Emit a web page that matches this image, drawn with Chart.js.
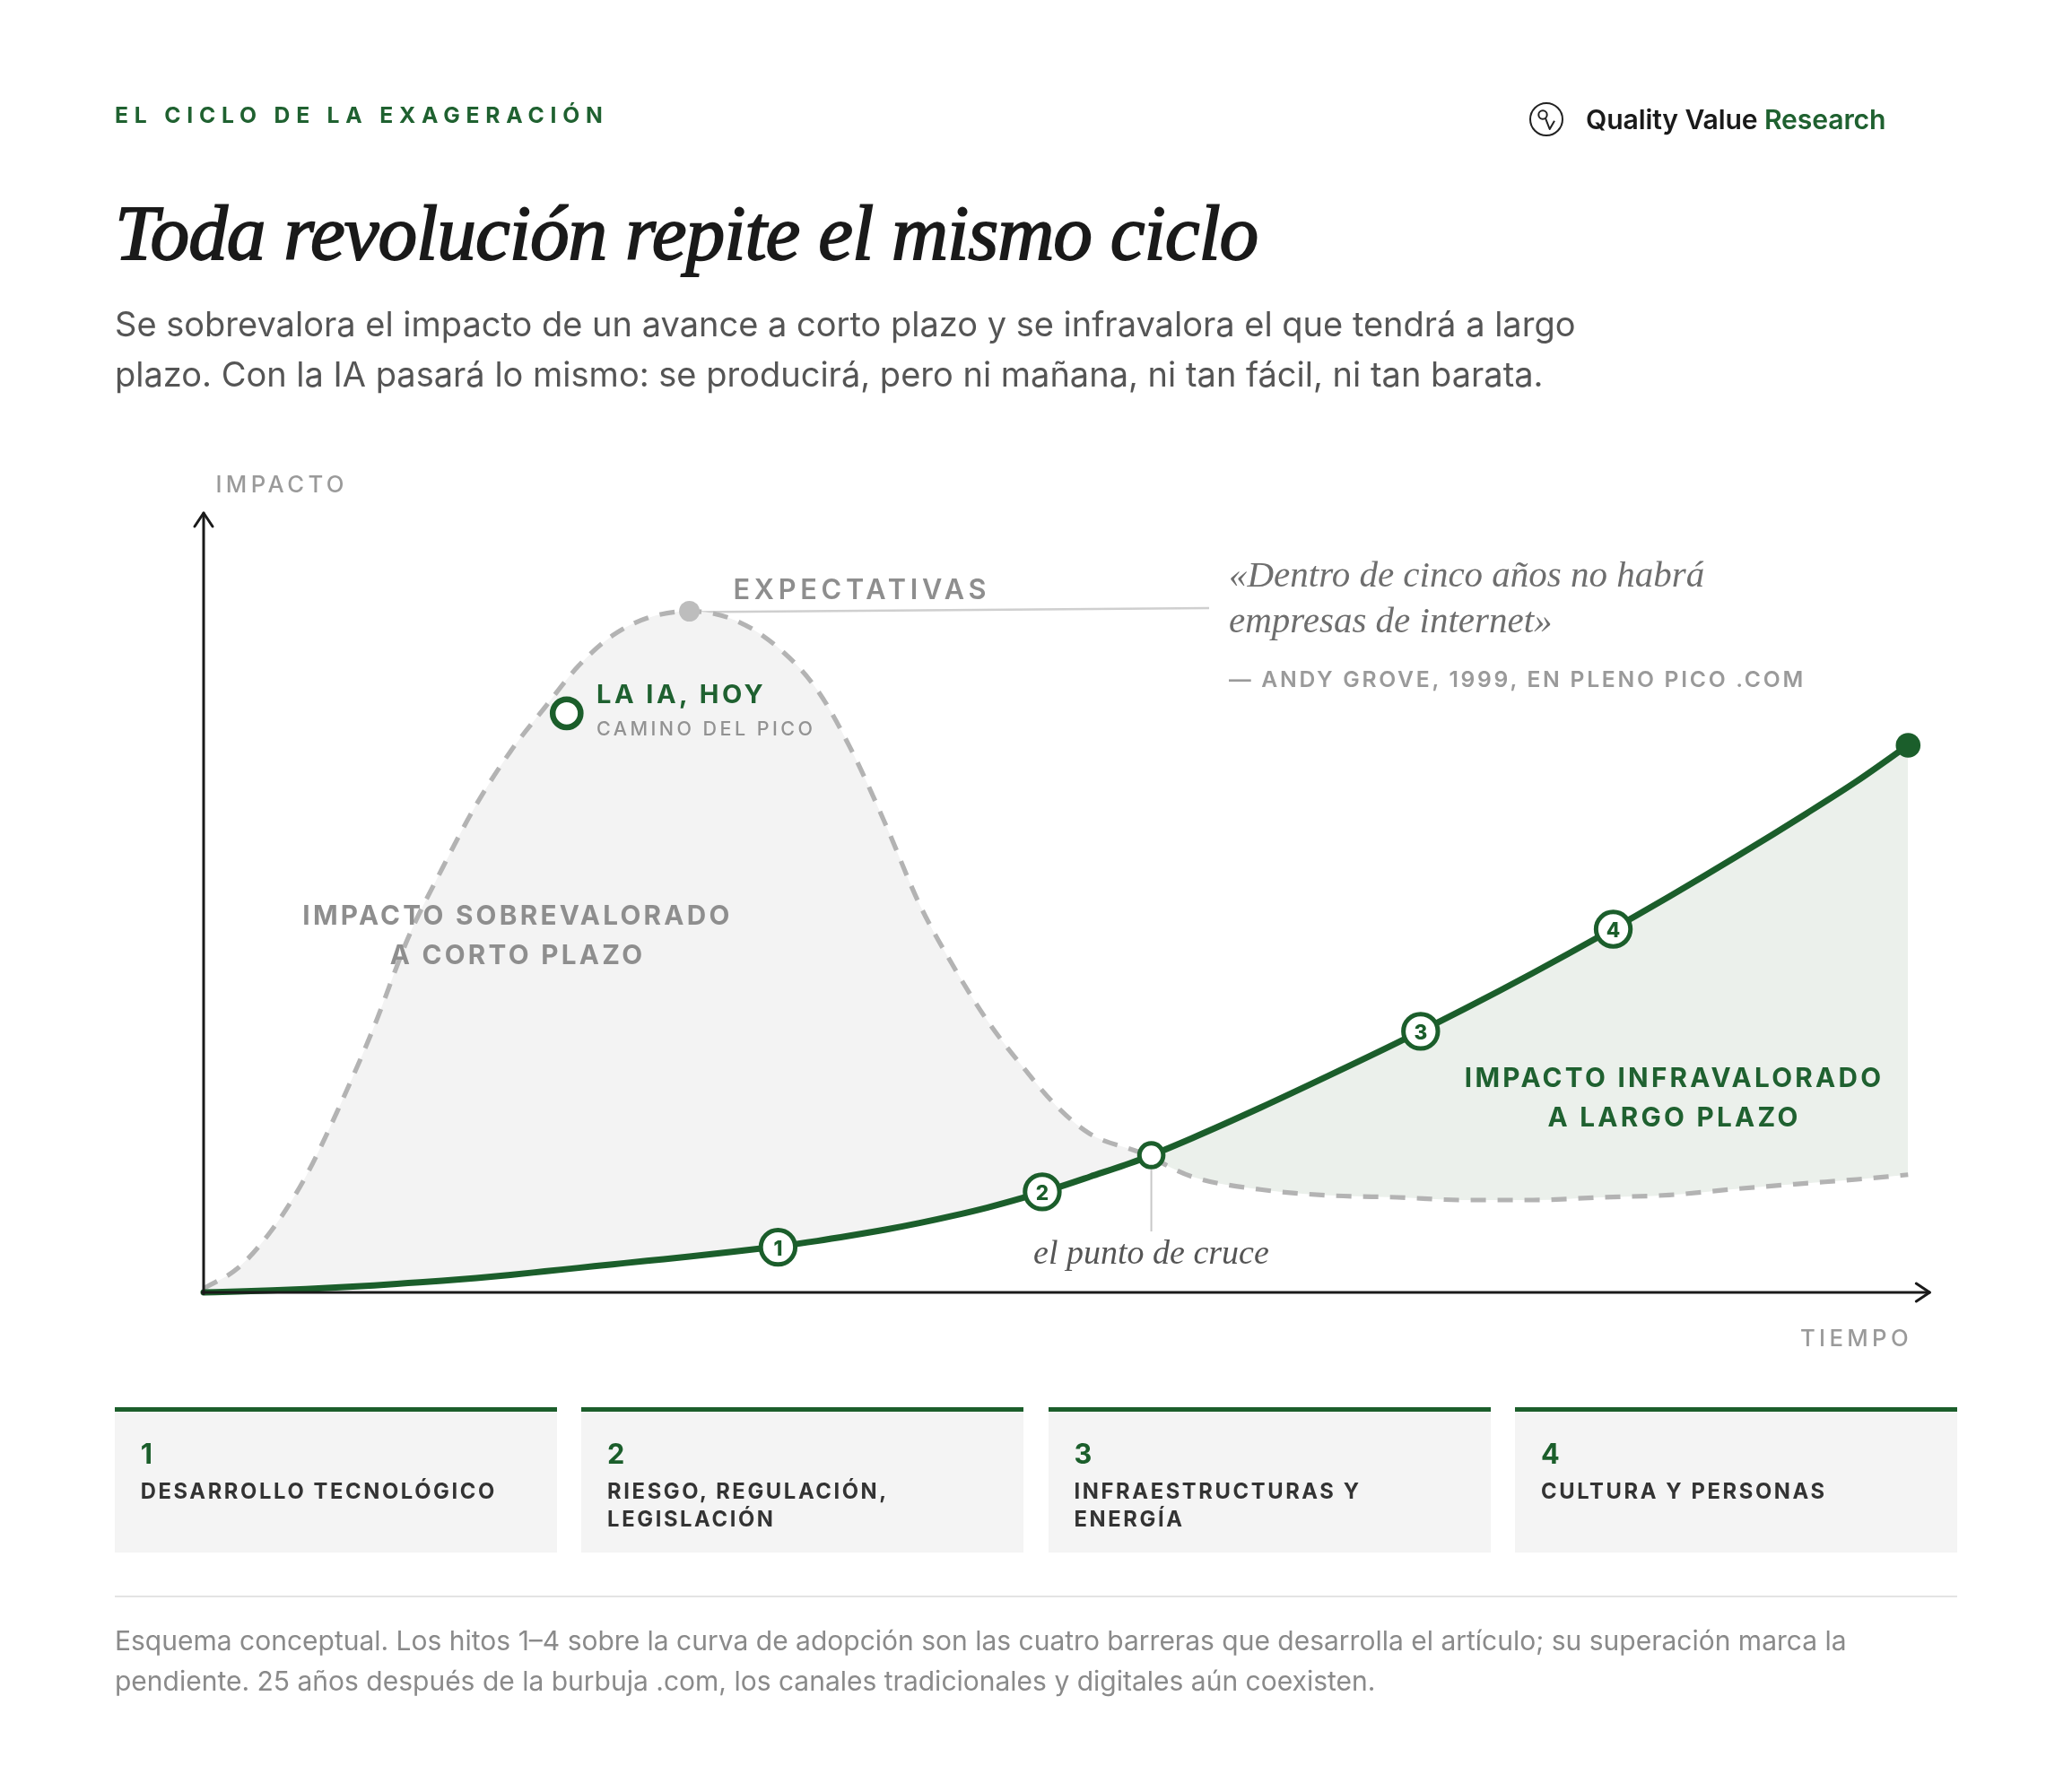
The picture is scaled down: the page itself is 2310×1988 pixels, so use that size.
<!DOCTYPE html>
<html lang="es">
<head>
<meta charset="utf-8">
<script src="https://cdn.jsdelivr.net/npm/chart.js@4.4.1/dist/chart.umd.min.js"></script>
<style>
html,body{margin:0;padding:0;background:#fff;}
body{width:2310px;height:1988px;position:relative;overflow:hidden;font-family:Inter,"Noto Sans",sans-serif;color:#1a1a1a;}
#chart{position:absolute;left:0;top:0;z-index:0;}
.t{position:absolute;white-space:nowrap;line-height:1;z-index:2;}
.eyebrow{left:128px;top:116px;font-size:24.7px;font-weight:700;letter-spacing:0.275em;color:#1f6130;}
.logo{left:1704px;top:113px;display:flex;align-items:center;gap:24px;}
.logo span.txt{font-size:30.2px;font-weight:600;letter-spacing:-0.005em;color:#1a1a1a;}
.logo span.g{color:#1f6130;}
.title{left:128px;top:216px;font-family:"Liberation Serif",serif;font-style:italic;font-size:87.4px;color:#1a1a1a;-webkit-text-stroke:1.8px #1a1a1a;letter-spacing:-0.012em;}
.sub{left:128px;top:333px;font-size:38px;line-height:56.4px;color:#555;}
.axlab{font-size:25.7px;font-weight:500;letter-spacing:0.17em;color:#9a9a9a;}
.lbl-gray{font-size:29.7px;font-weight:700;letter-spacing:0.11em;color:#8e8e8e;}
.lbl-green{font-size:29.7px;font-weight:700;letter-spacing:0.11em;color:#1f6130;}
.quote{left:1370px;top:614.5px;font-family:"Liberation Serif",serif;font-style:italic;font-size:41px;line-height:51.5px;color:#6e6e6e;}
.attr{left:1370px;top:745px;font-size:24.7px;font-weight:600;letter-spacing:0.11em;color:#9a9a9a;}
.cruce{top:1377px;font-family:"Liberation Serif",serif;font-style:italic;font-size:38px;color:#555;}
.num{position:absolute;z-index:3;font-size:22.5px;font-weight:800;color:#1b5e2b;line-height:1;transform:translate(-50%,-50%);}
.cards{position:absolute;left:128px;top:1569px;width:2054px;display:flex;gap:27.7px;}
.card{flex:1;height:162.3px;background:#f4f4f4;border-top:5px solid #1b5e2b;padding:31.7px 20px 0 28.7px;box-sizing:border-box;}
.card .n{font-size:30.7px;font-weight:700;color:#1b5e2b;line-height:29.7px;}
.card .l{margin-top:12.9px;font-size:23.75px;font-weight:700;letter-spacing:0.11em;color:#333;line-height:30.7px;}
.sep{position:absolute;left:128px;top:1778.5px;width:2054px;height:2px;background:#e4e4e4;}
.foot{left:128px;top:1807px;font-size:30px;line-height:44.5px;color:#8a8a8a;}
</style>
</head>
<body>
<canvas id="chart" width="2310" height="1988"></canvas>

<div class="t eyebrow">EL CICLO DE LA EXAGERACIÓN</div>
<div class="t logo">
  <svg width="40" height="40" viewBox="0 0 40 40"><circle cx="20" cy="20" r="18" fill="none" stroke="#222" stroke-width="2"/><circle cx="16" cy="15" r="4.7" fill="none" stroke="#222" stroke-width="2"/><path d="M19 18.8 L23.7 31 L29 21.7" stroke="#222" stroke-width="2" fill="none" stroke-linejoin="round"/></svg>
  <span class="txt">Quality Value <span class="g">Research</span></span>
</div>
<div class="t title">Toda revolución repite el mismo ciclo</div>
<div class="t sub">Se sobrevalora el impacto de un avance a corto plazo y se infravalora el que tendrá a largo<br>plazo. Con la IA pasará lo mismo: se producirá, pero ni mañana, ni tan fácil, ni tan barata.</div>

<div class="t axlab" style="left:240.5px;top:526.5px;">IMPACTO</div>
<div class="t axlab" style="right:178px;top:1479px;">TIEMPO</div>
<div class="t" style="left:817.5px;top:642.3px;font-size:30.7px;font-weight:600;letter-spacing:0.155em;color:#8e8e8e;">EXPECTATIVAS</div>
<div class="t" style="left:665px;top:759px;font-size:29px;font-weight:700;letter-spacing:0.12em;color:#1f6130;">LA IA, HOY</div>
<div class="t" style="left:665px;top:802px;font-size:21.5px;font-weight:500;letter-spacing:0.16em;color:#929292;">CAMINO DEL PICO</div>
<div class="t lbl-gray" style="left:277px;width:600px;top:997.6px;line-height:44.5px;text-align:center;">IMPACTO SOBREVALORADO<br>A CORTO PLAZO</div>
<div class="t lbl-green" style="left:1566.6px;width:600px;top:1178.7px;line-height:44.5px;text-align:center;">IMPACTO INFRAVALORADO<br>A LARGO PLAZO</div>
<div class="t quote">«Dentro de cinco años no habrá<br>empresas de internet»</div>
<div class="t attr">— ANDY GROVE, 1999, EN PLENO PICO .COM</div>
<div class="t cruce" id="cruce">el punto de cruce</div>

<div class="cards">
  <div class="card"><div class="n">1</div><div class="l">DESARROLLO TECNOLÓGICO</div></div>
  <div class="card"><div class="n">2</div><div class="l">RIESGO, REGULACIÓN,<br>LEGISLACIÓN</div></div>
  <div class="card"><div class="n">3</div><div class="l">INFRAESTRUCTURAS Y<br>ENERGÍA</div></div>
  <div class="card"><div class="n">4</div><div class="l">CULTURA Y PERSONAS</div></div>
</div>
<div class="sep"></div>
<div class="t foot">Esquema conceptual. Los hitos 1–4 sobre la curva de adopción son las cuatro barreras que desarrolla el artículo; su superación marca la<br>pendiente. 25 años después de la burbuja .com, los canales tradicionales y digitales aún coexisten.</div>

<script>
// ---- data (x = time 0–100, y = impact 0–100) ----
const timeValues        = [0, 2, 4, 6, 8, 10, 12, 14, 16, 18, 20, 22, 24, 26, 28.5, 31, 33.5, 36, 38, 40, 42, 44, 46, 48, 50, 52, 55, 58, 62, 66, 70, 74, 78, 82, 86, 90, 94, 97, 100];
const expectationValues = [0.5, 3.1, 8.0, 14.9, 24.0, 34.1, 45.5, 54.4, 62.6, 69.4, 75.0, 80.4, 84.3, 86.5, 87.4, 86.4, 83.1, 77.3, 69.6, 60.1, 49.8, 41.8, 34.8, 29.1, 24.0, 20.35, 17.9, 14.85, 13.2, 12.45, 12.2, 11.85, 11.85, 12.2, 12.5, 13.3, 14.0, 14.5, 15.1];
const adoptionValues    = [0, 0.12, 0.27, 0.44, 0.65, 0.9, 1.2, 1.5, 1.85, 2.25, 2.7, 3.15, 3.6, 4.05, 4.6, 5.2, 5.85, 6.6, 7.3, 8.05, 8.9, 9.85, 10.9, 12.1, 13.4, 14.85, 17.1, 19.8, 23.7, 27.8, 32.0, 36.4, 41.0, 45.8, 50.8, 56.0, 61.4, 65.6, 70.2];
const milestoneLabels   = ['1', '2', '3', '4'];
const milestoneTime     = [33.7, 49.2, 71.4, 82.7];
const milestoneImpact   = [5.8, 12.9, 33.5, 46.6];
const crossTime = [55.6],  crossImpact = [17.6];
const todayTime = [21.3],  todayImpact = [74.3];
const peakTime  = [28.5],  peakImpact  = [87.4];
const endTime   = [100],   endImpact   = [70.2];

const GREEN = '#1b5e2b';
const pts = (xs, ys) => xs.map((x, i) => ({x, y: ys[i]}));

// number labels inside the milestone circles (real text, placed by the scales)
const numEls = milestoneLabels.map(l => {
  const d = document.createElement('div');
  d.className = 'num'; d.textContent = l; document.body.appendChild(d); return d;
});

const decor = {
  id: 'decor',
  beforeDatasetsDraw(chart) {
    const {ctx, scales: {x, y}} = chart;
    ctx.save();
    ctx.strokeStyle = '#cfcfcf'; ctx.lineWidth = 2.5;
    ctx.beginPath();
    ctx.moveTo(x.getPixelForValue(peakTime[0]), y.getPixelForValue(peakImpact[0]) + 1);
    ctx.lineTo(1348, 678);
    ctx.stroke();
    ctx.restore();
  },
  afterDatasetsDraw(chart) {
    const {ctx, chartArea: a, scales: {x, y}} = chart;
    ctx.save();
    const cx = x.getPixelForValue(crossTime[0]), cy = y.getPixelForValue(crossImpact[0]);
    ctx.strokeStyle = '#c8c8c8'; ctx.lineWidth = 2;
    ctx.beginPath(); ctx.moveTo(cx, cy + 16); ctx.lineTo(cx, cy + 85); ctx.stroke();
    ctx.strokeStyle = '#1a1a1a'; ctx.lineWidth = 3; ctx.lineCap = 'round'; ctx.lineJoin = 'round';
    const x0 = a.left, y0 = a.bottom, xEnd = a.right + 24;
    ctx.beginPath(); ctx.moveTo(x0, y0 + 1.5); ctx.lineTo(x0, a.top); ctx.stroke();
    ctx.beginPath(); ctx.moveTo(x0 - 10, a.top + 15); ctx.lineTo(x0, a.top); ctx.lineTo(x0 + 10, a.top + 15); ctx.stroke();
    ctx.beginPath(); ctx.moveTo(x0 - 1.5, y0); ctx.lineTo(xEnd, y0); ctx.stroke();
    ctx.beginPath(); ctx.moveTo(xEnd - 15, y0 - 10); ctx.lineTo(xEnd, y0); ctx.lineTo(xEnd - 15, y0 + 10); ctx.stroke();
    ctx.restore();
  },
  afterRender(chart) {
    const {x, y} = chart.scales;
    numEls.forEach((el, i) => {
      el.style.left = x.getPixelForValue(milestoneTime[i]) + 'px';
      el.style.top = (y.getPixelForValue(milestoneImpact[i]) + 1) + 'px';
    });
    const c = document.getElementById('cruce');
    c.style.left = (x.getPixelForValue(crossTime[0]) - c.offsetWidth / 2) + 'px';
  }
};

new Chart(document.getElementById('chart'), {
  type: 'line',
  data: {
    datasets: [
      { label: 'Adopción', data: pts(timeValues, adoptionValues), borderColor: GREEN, borderWidth: 7,
        pointRadius: 0, cubicInterpolationMode: 'monotone', fill: false, order: 1, clip: false, borderCapStyle: 'round' },
      { label: 'Expectativas', data: pts(timeValues, expectationValues), borderColor: '#b3b3b3', borderWidth: 5.2,
        borderDash: [17, 13], pointRadius: 0, cubicInterpolationMode: 'monotone', order: 2, clip: false,
        fill: { target: 0, above: '#f3f3f3', below: '#ebf0eb' } },
      { type: 'scatter', label: 'Hitos', data: pts(milestoneTime, milestoneImpact), pointRadius: 19.2,
        pointBackgroundColor: '#fff', pointBorderColor: GREEN, pointBorderWidth: 5, order: 0, clip: false },
      { type: 'scatter', label: 'Cruce', data: pts(crossTime, crossImpact), pointRadius: 13.3,
        pointBackgroundColor: '#fff', pointBorderColor: GREEN, pointBorderWidth: 5, order: 0, clip: false },
      { type: 'scatter', label: 'La IA, hoy', data: pts(todayTime, todayImpact), pointRadius: 15.6,
        pointBackgroundColor: '#fff', pointBorderColor: GREEN, pointBorderWidth: 6.5, order: 0, clip: false },
      { type: 'scatter', label: 'Pico', data: pts(peakTime, peakImpact), pointRadius: 11.5,
        pointBackgroundColor: '#bdbdbd', pointBorderWidth: 0, order: 0, clip: false },
      { type: 'scatter', label: 'Fin', data: pts(endTime, endImpact), pointRadius: 13.8,
        pointBackgroundColor: GREEN, pointBorderWidth: 0, order: 0, clip: false }
    ]
  },
  options: {
    responsive: false, animation: false, devicePixelRatio: 1,
    layout: { padding: { left: 227, right: 182.7, top: 572, bottom: 547 } },
    scales: {
      x: { type: 'linear', min: 0, max: 100, display: false },
      y: { type: 'linear', min: 0, max: 100, display: false }
    },
    plugins: { legend: { display: false }, tooltip: { enabled: false } },
    events: []
  },
  plugins: [decor]
});
</script>
</body>
</html>
